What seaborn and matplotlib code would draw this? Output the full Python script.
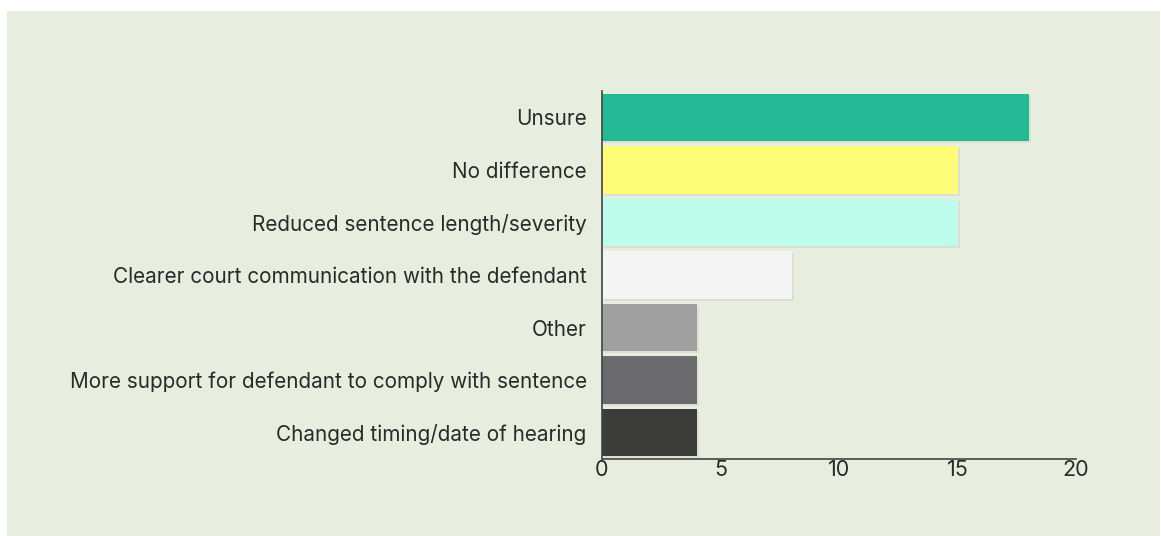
import pandas as pd
import matplotlib
matplotlib.use('Agg')
import matplotlib.pyplot as plt
import matplotlib.patheffects as pe
from matplotlib.patches import Rectangle
import seaborn as sns

# Chart data
categories = [
    'Unsure',
    'No difference',
    'Reduced sentence length/severity',
    'Clearer court communication with the defendant',
    'Other',
    'More support for defendant to comply with sentence',
    'Changed timing/date of hearing',
]
counts = [18, 15, 15, 8, 4, 4, 4]
bar_colors = ['#23b994', '#fffd77', '#bdfbea', '#f4f4f4', '#a0a0a0', '#6b6b6e', '#3c3c3a']
x_ticks = [0, 5, 10, 15, 20]

bg = '#e7eddf'
text_col = '#2a2a2a'

sns.set_theme(style='white')
plt.rcParams['font.family'] = ['Inter', 'Lato', 'DejaVu Sans']

df = pd.DataFrame({'category': categories, 'count': counts})

fig = plt.figure(figsize=(11.61, 5.36), dpi=100, facecolor='white')
# green panel behind the chart
fig.patches.append(Rectangle((7 / 1161, 0), 1 - 8 / 1161, 1 - 11 / 536,
                             transform=fig.transFigure, facecolor=bg,
                             edgecolor='none', zorder=-1))

ax = fig.add_axes([602 / 1161, 1 - 459 / 536, (1076 - 602) / 1161, (459 - 91) / 536])
ax.set_facecolor('none')

sns.barplot(data=df, y='category', x='count', hue='category',
            palette=bar_colors, legend=False, width=0.9, ax=ax,
            edgecolor='none', saturation=1)

for bar in ax.patches:
    bar.set_path_effects([pe.SimplePatchShadow(offset=(1.5, -1.5), shadow_rgbFace='#000000', alpha=0.05),
                          pe.Normal()])

ax.set_xlim(0, 20)
ax.set_ylim(6.5, -0.5)
ax.set_xticks(x_ticks)
ax.set_xticklabels([str(t) for t in x_ticks])
ax.set_xlabel('')
ax.set_ylabel('')

for side in ['top', 'right']:
    ax.spines[side].set_visible(False)
for side in ['left', 'bottom']:
    ax.spines[side].set_color('#444444')
    ax.spines[side].set_linewidth(1.2)

ax.tick_params(axis='x', direction='in', length=8, width=1.2, color='#444444',
               labelsize=15.5, labelcolor=text_col, pad=1)
ax.tick_params(axis='y', length=0, labelsize=14.9, labelcolor=text_col, pad=11)

fig.savefig('out.png', dpi=100, facecolor=fig.get_facecolor())
